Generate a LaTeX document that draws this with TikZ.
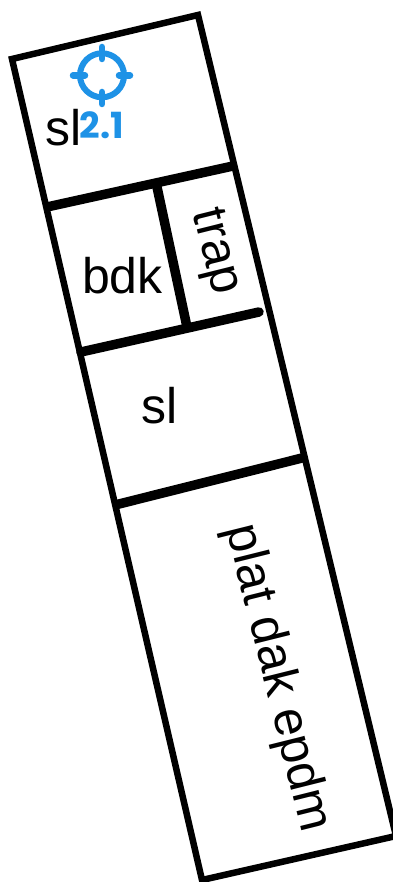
\documentclass[tikz,border=0pt]{standalone}
\usepackage{fontspec}
\setmainfont{Liberation Sans}
\newfontfamily\iconfont{Poppins}
\definecolor{iconblue}{HTML}{1E92E6}
\tikzset{
  wall/.style={draw=black,line width=6.5pt,line join=miter},
  beam/.style={draw=black,line width=9.5pt},
  label/.style={font=\fontsize{50}{50}\selectfont,inner sep=0pt,text=black},
  tick/.style={draw=iconblue,line width=6.5pt,line cap=round},
}
\begin{document}
\begin{tikzpicture}[x=1pt,y=-1pt]
\useasboundingbox (0,0) rectangle (392,882);
\coordinate (tl) at (12,59);
\coordinate (tr) at (198,15);
\coordinate (br) at (396,836);
\coordinate (bl) at (202,880);
\draw[wall] (tl) -- (tr) -- (br) -- (bl) -- cycle;
\coordinate (a1) at (47,207);
\coordinate (a2) at (233,166);
\coordinate (b1) at (81,352);
\coordinate (b2) at (259,312);
\coordinate (c1) at (115,505);
\coordinate (c2) at (302,458);
\coordinate (d1) at (157,187);
\coordinate (d2) at (187,327);
\draw[beam] (a1) -- (a2);
\draw[beam] (d1) -- (d2);
\draw[beam,line cap=round] (b1) -- (b2);
\draw[beam] (c1) -- (c2);
\node[label] (sltop) at (64,128) {sl};
\node[label] (bdk) at (122.5,276) {bdk};
\node[label,rotate=-76] (trap) at (214,252) {trap};
\node[label] (slmid) at (160,406) {sl};
\node[label,rotate=-76] (plat) at (277,678) {plat dak epdm};
\draw[draw=iconblue,line width=6pt] (102,75.3) circle (22);
\draw[tick] (102,47) -- (102,59);
\draw[tick] (102,92) -- (102,104);
\draw[tick] (73,75.3) -- (85,75.3);
\draw[tick] (119,75.3) -- (130,75.3);
\node[inner sep=0pt,text=iconblue,font=\iconfont\bfseries\fontsize{36}{36}\selectfont] (num) at (102,125) {2.1};
\end{tikzpicture}
\end{document}
